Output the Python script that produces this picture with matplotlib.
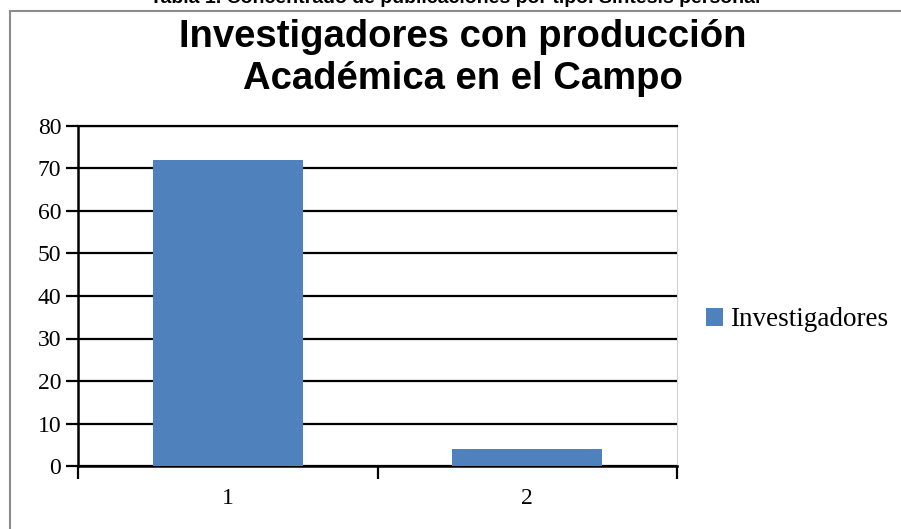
import matplotlib.pyplot as plt
from matplotlib.lines import Line2D

# data
categories = ["1", "2"]
values = [72, 4]
series_name = "Investigadores"
title = "Investigadores con producción\nAcadémica en el Campo"
caption = "Tabla 1. Concentrado de publicaciones por tipo. Síntesis personal"
yticks = [0, 10, 20, 30, 40, 50, 60, 70, 80]

W, H = 901, 529
fig = plt.figure(figsize=(W / 100, H / 100), dpi=100)

# frame of the embedded chart (cut at right and bottom)
fig.add_artist(Line2D([10 / W, 10 / W], [0, 1 - 11 / H], color="#8c8c8c", lw=1.5))
fig.add_artist(Line2D([10 / W, 1], [1 - 11 / H, 1 - 11 / H], color="#8c8c8c", lw=1.5))

# caption above, partly cut off like in the source
fig.text(455 / W, 1 - 3 / H, caption, ha="center", va="baseline",
         fontsize=14, fontweight="bold", family="Liberation Sans")

fig.text(463 / W, 1 - 58 / H, title, ha="center", va="center", fontsize=27.5,
         fontweight="bold", family="Liberation Sans", linespacing=1.2)

ax = fig.add_axes([78 / W, 1 - 466 / H, (677 - 78) / W, (466 - 126) / H])
pos = range(len(categories))
bars = ax.bar(pos, values, width=0.5, color="#4f81bd", zorder=3, label=series_name)

ax.set_ylim(0, 80)
ax.set_xlim(-0.5, len(categories) - 0.5)
ax.set_yticks(yticks)
ax.set_yticklabels([str(v) for v in yticks], family="Liberation Serif", fontsize=17)
ax.yaxis.grid(True, color="black", lw=1.6, zorder=1)
ax.set_xticks([p for p in pos])
ax.set_xticklabels(categories, family="Liberation Serif", fontsize=17)
ax.tick_params(axis="x", length=0, pad=16)
ax.tick_params(axis="y", length=9, width=1.6, pad=3)
# category boundary ticks below the x axis
ax.set_xticks([-0.5, 0.5, 1.5], minor=True)
ax.tick_params(axis="x", which="minor", length=9, width=1.6, direction="out")

ax.spines["top"].set_linewidth(1.6)
ax.spines["right"].set_color("#d0d0d0")
ax.spines["left"].set_linewidth(1.8)
ax.spines["bottom"].set_linewidth(1.8)

leg = fig.legend(handles=[bars], labels=[series_name], loc="center left",
                 bbox_to_anchor=(682 / W, 1 - 320 / H), frameon=False,
                 prop={"family": "Liberation Serif", "size": 19.5},
                 handlelength=0.62, handleheight=0.62, handletextpad=0.25)

fig.savefig("out.png", dpi=100)
